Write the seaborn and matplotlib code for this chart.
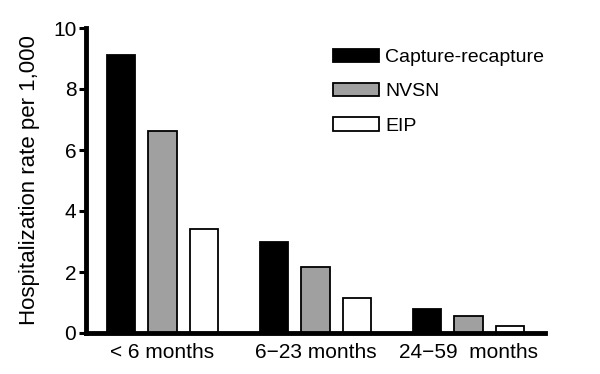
import pandas as pd
import matplotlib
matplotlib.use("Agg")
import matplotlib.pyplot as plt
import seaborn as sns

age_groups = ["< 6 months", "6\u221223 months", "24\u221259  months"]
methods = ["Capture-recapture", "NVSN", "EIP"]
capture_recapture = [9.1, 2.97, 0.78]
nvsn = [6.63, 2.17, 0.56]
eip = [3.42, 1.15, 0.23]

rows = []
for method, values in zip(methods, [capture_recapture, nvsn, eip]):
    for age, v in zip(age_groups, values):
        rows.append({"Age": age, "Method": method, "Rate": v})
df = pd.DataFrame(rows)

sns.set_style("ticks", {"axes.edgecolor": "black", "text.color": "black",
                        "xtick.color": "black", "ytick.color": "black",
                        "axes.labelcolor": "black"})
plt.rcParams["font.family"] = ["Liberation Sans", "DejaVu Sans"]

fig = plt.figure(figsize=(6, 3.74), dpi=100)
ax = fig.add_axes([86 / 600, 1 - 333 / 374, (545 - 86) / 600, (333 - 28) / 374])

sns.barplot(data=df, x="Age", y="Rate", hue="Method", order=age_groups,
            hue_order=methods, palette=["black", "#a0a0a0", "white"],
            edgecolor="black", linewidth=1.3, width=0.81, gap=0.32, ax=ax)

ax.set_ylim(0, 10)
ax.set_xlim(-0.5, 2.5)
ax.set_yticks([0, 2, 4, 6, 8, 10])
ax.set_xlabel("")
ax.set_ylabel("Hospitalization rate per 1,000", fontsize=16, labelpad=9)
sns.despine(ax=ax)
for s in ["left", "bottom"]:
    ax.spines[s].set_linewidth(3.5)
ax.tick_params(axis="y", length=5, width=2.2, pad=2, labelsize=15)
ax.tick_params(axis="x", length=0, pad=7, labelsize=15)

ax.legend(loc="upper left", bbox_to_anchor=(0.538, 0.932), frameon=False,
          fontsize=14, handlelength=2.35, handleheight=0.7,
          labelspacing=0.85, handletextpad=0.35, borderaxespad=0, borderpad=0)

fig.savefig("out.png", dpi=100)
